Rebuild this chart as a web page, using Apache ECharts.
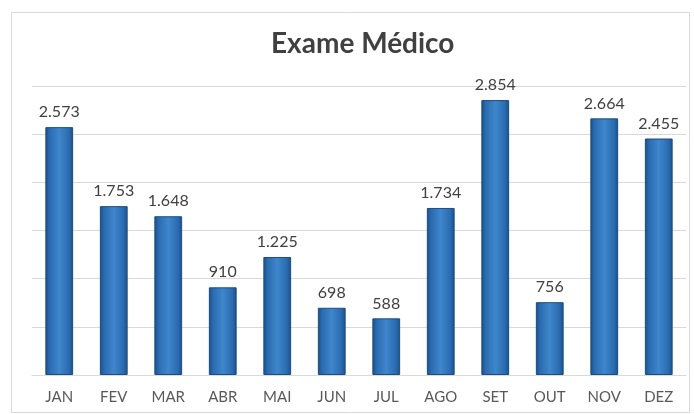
<!DOCTYPE html>
<html><head><meta charset="utf-8">
<script src="https://cdn.jsdelivr.net/npm/echarts@6/dist/echarts.min.js"></script>
<style>html,body{margin:0;padding:0;background:#fff}#c{width:694px;height:414px}</style>
</head><body><div id="c"></div>
<script>
const categories = ['JAN','FEV','MAR','ABR','MAI','JUN','JUL','AGO','SET','OUT','NOV','DEZ'];
const values = [2573,1753,1648,910,1225,698,588,1734,2854,756,2664,2455];
const titleText = 'Exame Médico';

function fmt(v){ return String(v).replace(/\B(?=(\d{3})+(?!\d))/g,'.'); }

const chart = echarts.init(document.getElementById('c'));
chart.setOption({
  backgroundColor:'#fff',
  animation:false,
  graphic:[{type:'rect',shape:{x:11.5,y:12.5,width:678,height:400},style:{fill:'none',stroke:'#d9d9d9',lineWidth:1}}],
  title:{text:titleText,left:266,top:25,textStyle:{fontFamily:'Lato',fontSize:28,fontWeight:'bold',color:'#404040'}},
  grid:{left:32,right:8,top:86,bottom:39},
  xAxis:{type:'category',data:categories,axisTick:{show:false},
    axisLine:{lineStyle:{color:'#d9d9d9'}},
    axisLabel:{color:'#595959',fontFamily:'Lato',fontSize:15,margin:15}},
  yAxis:{type:'value',min:0,max:3000,interval:500,axisLabel:{show:false},axisTick:{show:false},axisLine:{show:false},
    splitLine:{lineStyle:{color:'#d9d9d9'}}},
  series:[{type:'bar',data:values,barCategoryGap:'49%',
    itemStyle:{color:new echarts.graphic.LinearGradient(0,0,1,0,[
      {offset:0,color:'#1a4f85'},{offset:0.15,color:'#2a6bb0'},{offset:0.5,color:'#3f86cc'},{offset:0.85,color:'#2a6bb0'},{offset:1,color:'#1a4f85'}]),
      borderColor:'#1c4c7e',borderWidth:1},
    label:{show:true,position:'top',distance:7,color:'#404040',fontFamily:'Lato',fontSize:16,formatter:p=>fmt(p.value)}
  }]
});
</script></body></html>
